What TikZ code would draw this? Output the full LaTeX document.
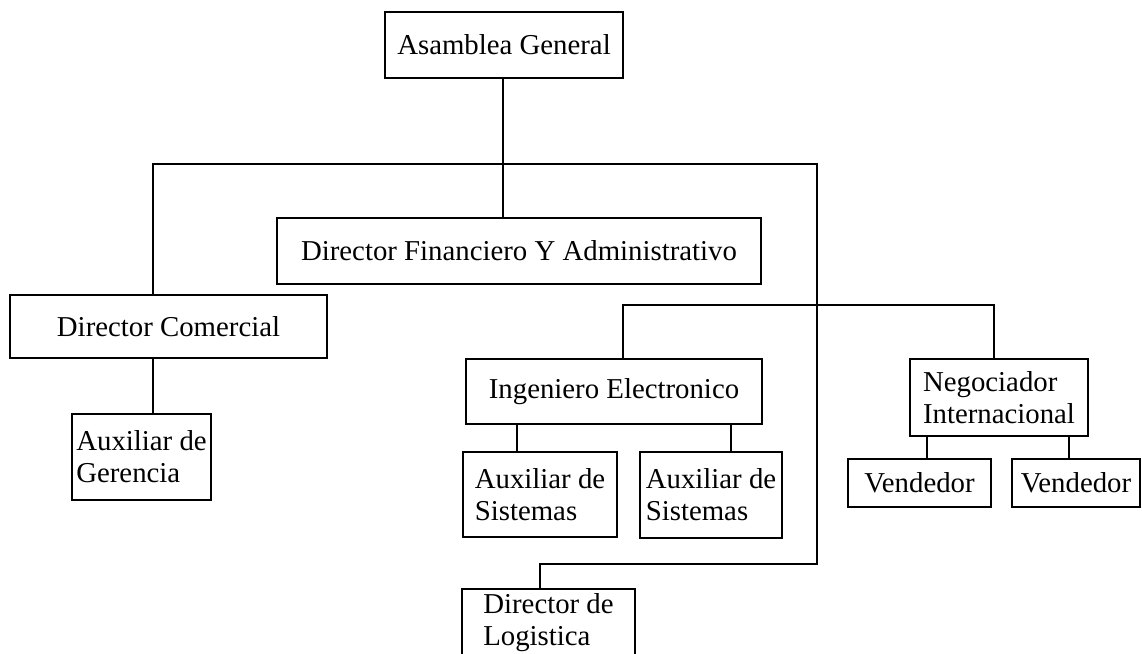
\documentclass[tikz,border=0pt]{standalone}
\usepackage{fontspec}
\setmainfont{Liberation Serif}

\begin{document}
\begin{tikzpicture}[x=0.5pt, y=-0.5pt,
		box/.style={draw, line width=0.7pt, inner sep=0pt, align=left,
			font=\fontsize{14.4}{16}\selectfont},
		link/.style={line width=0.7pt}]
		\useasboundingbox (0,0) rectangle (1142,654);
		\clip (0,0) rectangle (1142,654);
		\fill[white] (0,0) rectangle (1142,654);
		
		% Top level
		\node[box, minimum width=119pt, minimum height=33pt] (asamblea) at (504,45) {Asamblea General};
		\node[box, minimum width=242pt, minimum height=33pt] (financiero) at (519,251) {Director Financiero Y Administrativo};
		
		% Left branch
		\node[box, minimum width=158.5pt, minimum height=31.5pt] (comercial) at (168.5,326.5) {Director Comercial};
		\node[box, minimum width=69.5pt, minimum height=43pt] (gerencia) at (141.5,457) {Auxiliar de\\Gerencia};
		
		% Middle branch
		\node[box, minimum width=148pt, minimum height=32.5pt] (ingeniero) at (614,391.5) {Ingeniero Electronico};
		\node[box, minimum width=77pt, minimum height=42.5pt] (sistemas1) at (540,494.5) {Auxiliar de\\Sistemas};
		\node[box, minimum width=71pt, minimum height=43pt] (sistemas2) at (711,495) {Auxiliar de\\Sistemas};
		\node[box, minimum width=86.5pt, minimum height=34pt] (logistica) at (548.5,623) {Director de\\Logistica};
		
		% Right branch
		\node[box, minimum width=89pt, minimum height=38.5pt] (negociador) at (999,397.5) {Negociador\\Internacional};
		\node[box, minimum width=71.5pt, minimum height=24pt] (vendedor1) at (919.5,483) {Vendedor};
		\node[box, minimum width=64pt, minimum height=24pt] (vendedor2) at (1076,483) {Vendedor};
		
		% Bus points
		\coordinate (busL) at (153,164);
		\coordinate (busR) at (817,164);
		\coordinate (logKnee) at (817,564);
		\coordinate (logTop) at (540,564);
		\coordinate (midL) at (623,305);
		\coordinate (midR) at (994,305);
		\coordinate (drop1) at (517,0);
		\coordinate (drop2) at (731,0);
		\coordinate (drop3) at (927,0);
		\coordinate (drop4) at (1069,0);
		
		% Connectors
		\draw[link] (asamblea.south -| 503,0) -- (financiero.north -| 503,0);
		\draw[link] (busL |- comercial.north) -- (busL) -- (busR) -- (logKnee) -- (logTop) -- (logTop |- logistica.north);
		\draw[link] (busL |- comercial.south) -- (busL |- gerencia.north);
		\draw[link] (midL |- ingeniero.north) -- (midL) -- (midR) -- (midR |- negociador.north);
		\draw[link] (drop1 |- ingeniero.south) -- (drop1 |- sistemas1.north);
		\draw[link] (drop2 |- ingeniero.south) -- (drop2 |- sistemas2.north);
		\draw[link] (drop3 |- negociador.south) -- (drop3 |- vendedor1.north);
		\draw[link] (drop4 |- negociador.south) -- (drop4 |- vendedor2.north);
	\end{tikzpicture}
\end{document}
